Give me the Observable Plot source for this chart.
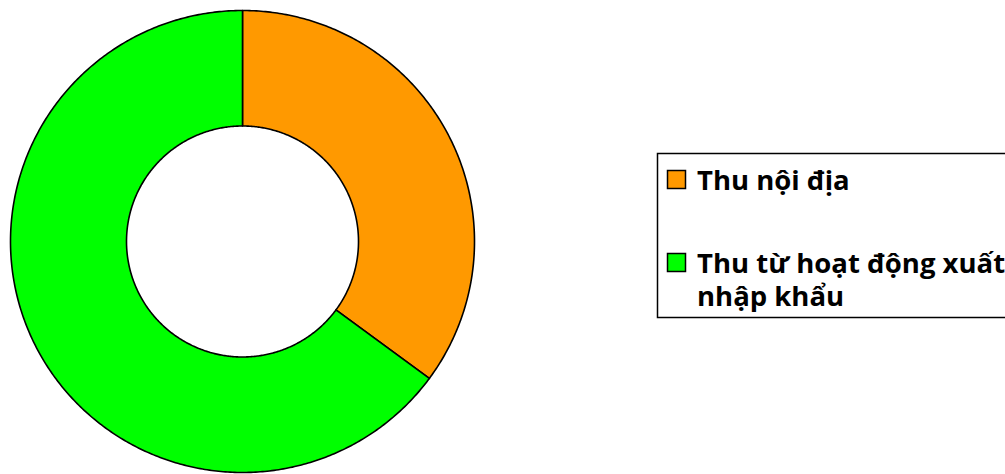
<!DOCTYPE html>
<html>
<head>
<meta charset="utf-8">
<script src="https://cdn.jsdelivr.net/npm/d3@7"></script>
<script src="https://cdn.jsdelivr.net/npm/@observablehq/plot@0.6"></script>
<style>
  html, body { margin: 0; padding: 0; background: #fff; }
  #wrap { position: relative; width: 1005px; height: 474px; overflow: hidden; }
  #legend { position: absolute; left: 0; top: 0; pointer-events: none; }
  #legend text { font-family: "Open Sans", Roboto, sans-serif; font-weight: bold; font-size: 27.5px; fill: #000; }
</style>
</head>
<body>
<div id="wrap"></div>
<script>
const categories = ["Thu nội địa", "Thu từ hoạt động xuất nhập khẩu"];
const values = [35.1, 64.9];
const colors = ["#FF9900", "#00FF00"];
const labelLines = [["Thu nội địa"], ["Thu từ hoạt động xuất", "nhập khẩu"]];

const outerR = 1, innerR = 0.5;
const pie = d3.pie().sort(null).value(d => d)(values);

// build ring polygons in data space (x = r·sinθ, y = r·cosθ)
const pts = [];
pie.forEach((s, i) => {
  const n = Math.max(2, Math.ceil((s.endAngle - s.startAngle) / 0.01));
  const seq = [];
  for (let k = 0; k <= n; k++) {
    const a = s.startAngle + (s.endAngle - s.startAngle) * k / n;
    seq.push({x: outerR * Math.sin(a), y: outerR * Math.cos(a)});
  }
  for (let k = n; k >= 0; k--) {
    const a = s.startAngle + (s.endAngle - s.startAngle) * k / n;
    seq.push({x: innerR * Math.sin(a), y: innerR * Math.cos(a)});
  }
  seq.push(seq[0]);
  seq.forEach(p => pts.push({...p, cat: categories[i]}));
});

const chart = Plot.plot({
  width: 1005,
  height: 474,
  margin: 0,
  x: {domain: [-1, 1], range: [10, 474], axis: null},
  y: {domain: [-1, 1], range: [472, 10], axis: null},
  color: {domain: categories, range: colors},
  marks: [
    Plot.line(pts, {x: "x", y: "y", z: "cat", fill: "cat", stroke: "#000", strokeWidth: 1.6, curve: "linear"})
  ]
});
const wrap = document.getElementById("wrap");
wrap.appendChild(chart);

// legend (SVG overlay)
const ns = "http://www.w3.org/2000/svg";
const lg = document.createElementNS(ns, "svg");
lg.setAttribute("id", "legend");
lg.setAttribute("width", 1005);
lg.setAttribute("height", 474);
function el(tag, attrs, parent) {
  const e = document.createElementNS(ns, tag);
  for (const k in attrs) e.setAttribute(k, attrs[k]);
  (parent || lg).appendChild(e);
  return e;
}
el("rect", {x: 657.5, y: 153.5, width: 400, height: 164, fill: "#fff", stroke: "#000", "stroke-width": 1.5});
const swTop = [170.5, 253.5];
const baselines = [[190], [273, 306]];
categories.forEach((c, i) => {
  el("rect", {x: 667.5, y: swTop[i], width: 18, height: 18, fill: colors[i], stroke: "#000", "stroke-width": 1.5});
  const t = el("text", {x: 697, y: baselines[i][0]});
  labelLines[i].forEach((line, j) => {
    const ts = el("tspan", {x: 697, y: baselines[i][j]}, t);
    ts.textContent = line;
  });
});
wrap.appendChild(lg);
</script>
</body>
</html>
